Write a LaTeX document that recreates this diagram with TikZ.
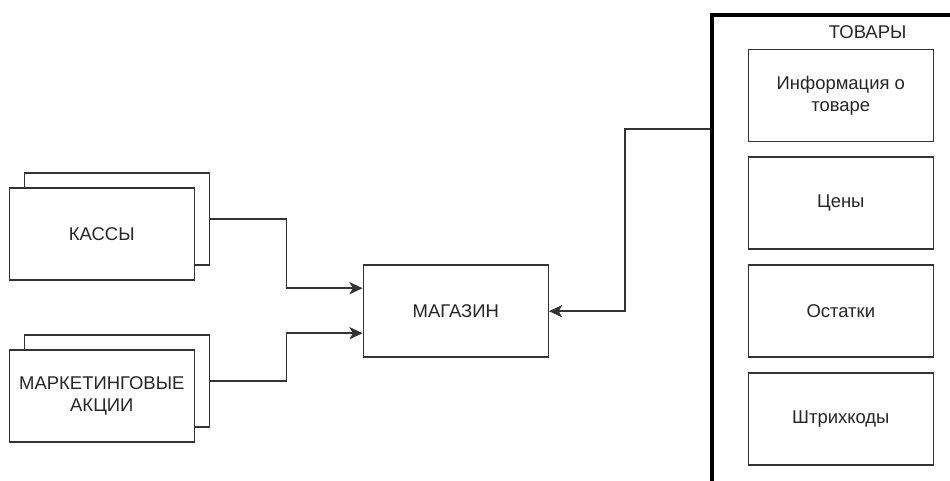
\documentclass[tikz,border=0pt]{standalone}
\usepackage{fontspec}
\setmainfont{Liberation Sans}
\usepackage{tikz}
\usetikzlibrary{arrows.meta,positioning}

\begin{document}
\begin{tikzpicture}[
  >={Stealth[length=7.5pt,width=7pt,inset=2pt]},
  every node/.style={font=\fontsize{10.5}{12.5}\selectfont, text=black!85},
  block/.style={rectangle, draw=black!80, line width=0.85pt, fill=white,
    minimum width=3.7cm, minimum height=1.84cm, align=center, inner sep=1pt},
  shadowblock/.style={block},
  frame/.style={rectangle, draw=black, line width=2.4pt,
    minimum width=6cm, minimum height=10cm, anchor=north west},
  conn/.style={->, line width=0.85pt, color=black!80},
]
\useasboundingbox (0,0) rectangle (19,9.62);

% Left: stacked blocks
\node[shadowblock] at (2.336, 5.236) (kassyb) {};
\node[block] at (2.036, 4.936) (kassy) {КАССЫ};
\node[shadowblock] at (2.336, 2.0) (aktsiib) {};
\node[block] at (2.036, 1.70) (aktsii) {МАРКЕТИНГОВЫЕ\\АКЦИИ};

% Centre
\node[block] at (9.116, 3.396) (magazin) {МАГАЗИН};

% Right: goods frame
\node[frame] at (14.2, 9.366) (tovary) {};
\node at (17.354, 8.986) (tovlabel) {ТОВАРЫ};
\node[block] at (16.816, 7.71) (info) {Информация о\\товаре};
\node[block] at (16.816, 5.56) (ceny) {Цены};
\node[block] at (16.816, 3.396) (ostatki) {Остатки};
\node[block] at (16.816, 1.242) (shtrih) {Штрихкоды};

% Connectors
\draw[conn] (kassyb.east) -- ++(1.534,0) |- ([yshift=0.46cm]magazin.west);
\draw[conn] (aktsiib.east) -- ++(1.534,0) |- ([yshift=-0.44cm]magazin.west);
\draw[conn] ([yshift=-2.33cm]tovary.north west) -- ++(-1.7,0) |- (magazin.east);

\end{tikzpicture}
\end{document}
